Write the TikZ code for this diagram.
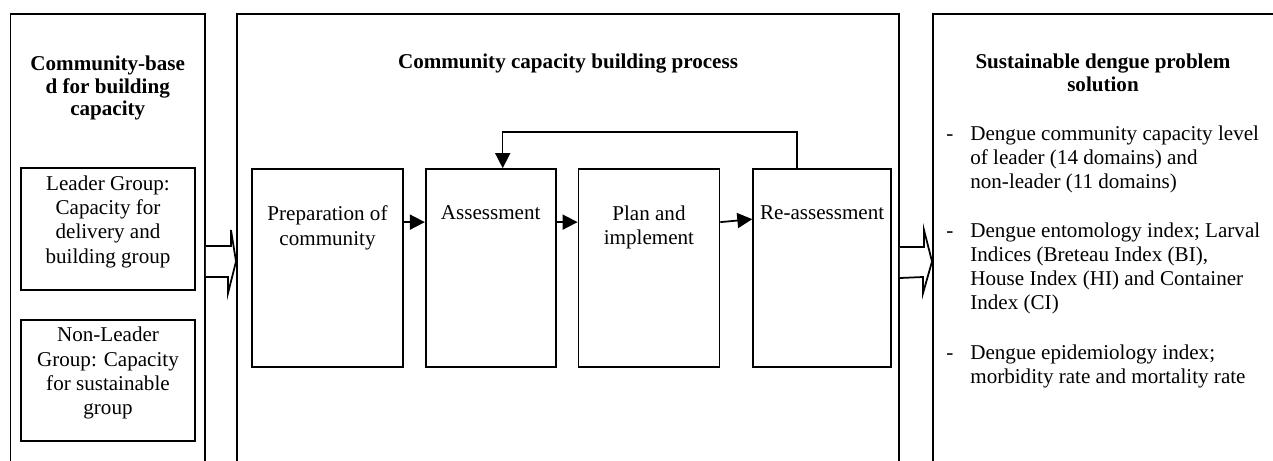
\documentclass[tikz,border=0pt]{standalone}
\usepackage{fontspec}
\setmainfont{Liberation Serif}
\usetikzlibrary{arrows.meta, positioning, fit}

\newcommand{\itemdash}{\llap{-\hspace{0.34cm}}}

\begin{document}
\begin{tikzpicture}[
  x=0.02cm, y=-0.02cm,
  node distance=0.42cm,
  every node/.style={font=\fontsize{12}{13.8}\selectfont},
  frame/.style={rectangle, draw, line width=1.1pt, inner sep=0pt},
  grp/.style={rectangle, draw, line width=1pt, inner sep=0pt, align=center},
  proc/.style={rectangle, draw, line width=1pt, minimum width=#1, minimum height=3.96cm},
  proctext/.style={anchor=north, yshift=-0.75cm, inner sep=0pt, align=center},
  title/.style={font=\bfseries\fontsize{12}{12.8}\selectfont, align=center, inner sep=0pt},
  item/.style={anchor=west, align=left, inner sep=0pt},
  flow/.style={-{Triangle[length=0.3cm, width=0.3cm]}, line width=1pt},
  loop/.style={flow, line width=0.8pt},
  fat/.style={draw, line width=1pt, fill=white, line join=miter}
]
\path[use as bounding box, clip] (0,0) rectangle (1273,460);

% the three columns (open at the bottom)
\node[frame, fit={(10.5,14) (205,490)}] (lframe) {};
\node[frame, fit={(237,14) (899,490)}] (mframe) {};
\node[frame, fit={(933,14) (1300,490)}] (rframe) {};

% left column
\node[title] (ltitle) at (lframe.north |- 0,88) {Community-base\\d for building\\capacity};
\node[grp, fit={(21,168) (195,290)}] (lead) {Leader Group:\\Capacity for\\delivery and\\building group\\[-4pt]};
\node[grp, fit={(21,320) (195,441)}] (nonlead) {Non-Leader\\Group: Capacity\\for sustainable\\group};

% middle column
\node[title] (mtitle) at (mframe.north |- 0,64) {Community capacity building process};
\node[proc=3.02cm, label={[proctext]north:{Preparation of\\community}}] (prep) at (327.5,268) {};
\node[proc=2.6cm, right=of prep, label={[proctext]north:Assessment}] (assess) {};
\node[proc=2.82cm, right=of assess, label={[proctext]north:{Plan and\\implement}}] (plan) {};
\node[proc=2.76cm, right=0.64cm of plan, label={[proctext]north:Re-assessment}] (reassess) {};

\draw[flow] ([yshift=-1.08cm]prep.north east) -- ([yshift=-1.08cm]assess.north west);
\draw[flow] ([yshift=-1.08cm]assess.north east) -- ([yshift=-1.08cm]plan.north west);
\draw[flow] ([yshift=-1.08cm]plan.north east) -- ([yshift=-1.02cm]reassess.north west);
\draw[loop] ([xshift=-0.5cm]reassess.north) |- ([xshift=0.24cm, yshift=0.72cm]assess.north)
  -- ([xshift=0.24cm]assess.north);

% right column
\node[title] (rtitle) at (1103,73) {Sustainable dengue problem\\solution};
\node[item] (out1) at (970,159.5) {\itemdash Dengue community capacity level\\of leader (14 domains) and\\non-leader (11 domains)};
\node[item] (out2) at (970,268.5) {\itemdash Dengue entomology index; Larval\\Indices (Breteau Index (BI),\\House Index (HI) and Container\\Index (CI)};
\node[item] (out3) at (970,366.5) {\itemdash Dengue epidemiology index;\\morbidity rate and mortality rate};

% block arrows between the columns
\draw[fat] (lframe.east |- 0,246) -- ++(25,0) -- ++(0,-16) -- (mframe.west |- 0,261.5)
  -- ++(-8,31.5) -- ++(0,-16) -- (lframe.east |- 0,277);
\draw[fat] (mframe.east |- 0,247) -- ++(24,0) -- ++(0,-17) -- (rframe.west |- 0,261.5)
  -- ++(-9,31.5) -- ++(0,-16) -- (mframe.east |- 0,278);
\end{tikzpicture}
\end{document}
